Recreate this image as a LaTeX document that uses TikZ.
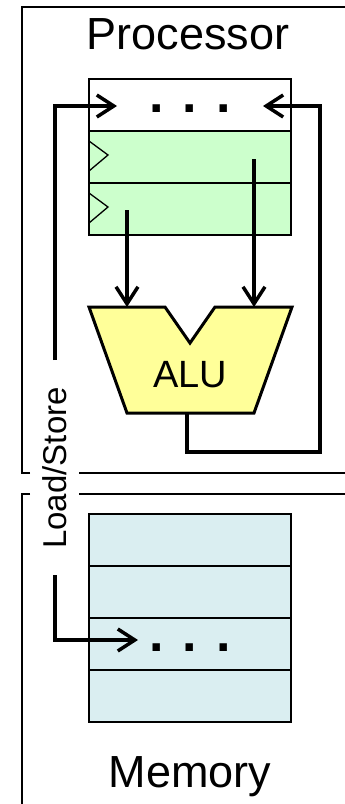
\documentclass[tikz,border=0pt]{standalone}
\usepackage{fontspec}
\setmainfont{Liberation Sans}
\usetikzlibrary{arrows.meta, positioning, calc}
\definecolor{regfill}{RGB}{204,255,204}
\definecolor{alufill}{RGB}{255,255,153}
\definecolor{memfill}{RGB}{218,238,241}

\begin{document}
\begin{tikzpicture}[x=1pt, y={(0pt,-1pt)},
  frame/.style={line width=1.5pt},
  row/.style={draw, line width=2pt, minimum width=202pt, minimum height=52pt, inner sep=0pt, outer sep=0pt},
  wire/.style={line width=3.5pt},
  arr/.style={wire, -{Straight Barb[length=17pt, width=22pt]}},
  clk/.style={line width=1.3pt},
  dots/.style={font=\fontsize{52}{52}\selectfont\bfseries, inner sep=0pt},
  title/.style={font=\fontsize{45}{54}\selectfont, anchor=base}
]
\useasboundingbox (0,0) rectangle (345,804);

%% Processor frame and title
\draw[frame] (30,473) -| (22,7) -- (345,7);
\draw[frame] (79,473) -- (345,473);
\node[title] (proc) at (188,49) {Processor};

%% Register file
\node[row, anchor=north west] (rtop) at (89,79) {};
\node[row, fill=regfill, below=0pt of rtop] (r1) {};
\node[row, fill=regfill, below=0pt of r1] (r2) {};
\node[dots, yshift=-4pt] (regdots) at (rtop.center) {. . .};
\foreach \r in {r1,r2} {
  \draw[clk] ($(\r.west)+(0,-16)$) -- ($(\r.west)+(19,-2)$) -- ($(\r.west)+(0,14)$);
}

%% ALU
\draw[line width=3pt, fill=alufill] (89,307) -- (165,307) -- (190,343) -- (215,307)
  -- (292,307) -- (254,413) -- (127,413) -- cycle;
\node[font=\fontsize{38}{40}\selectfont, anchor=base] (alu) at (190,387) {ALU};

%% connector ends
\coordinate (rp1) at (127,210);
\coordinate (rp2) at (254,159);
\coordinate (aluin1) at (127,307);
\coordinate (aluin2) at (254,307);
\coordinate (aluout) at (187,413);
\coordinate (wbL) at (117,106);
\coordinate (wbR) at (263,106);
\coordinate (lsup) at (55,360);
\coordinate (lsdown) at (55,575);
\coordinate (memin) at (138,640);

%% datapath wires
\draw[arr] (rp1) -- (aluin1);
\draw[arr] (rp2) -- (aluin2);
\draw[arr] (aluout) -- ++(0,39) -| ($(wbR)+(57,0)$) -- (wbR);
\draw[arr] (lsup) |- (wbL);

%% Load/Store label
\node[rotate=90, anchor=base, font=\fontsize{33}{36}\selectfont] (ls) at (66,468) {Load/Store};

%% Memory frame and title
\draw[frame] (30,494) -- (22,494) -- (22,805);
\draw[frame] (79,494) -- (345,494);
\node[title] (mem) at (190,787) {Memory};

%% Memory rows
\node[row, fill=memfill, anchor=north west] (m1) at (89,514) {};
\node[row, fill=memfill, below=0pt of m1] (m2) {};
\node[row, fill=memfill, below=0pt of m2] (m3) {};
\node[row, fill=memfill, below=0pt of m3] (m4) {};
\node[dots, yshift=-4pt] (memdots) at (m3.center) {. . .};

\draw[arr] (lsdown) |- (memin);
\end{tikzpicture}
\end{document}
